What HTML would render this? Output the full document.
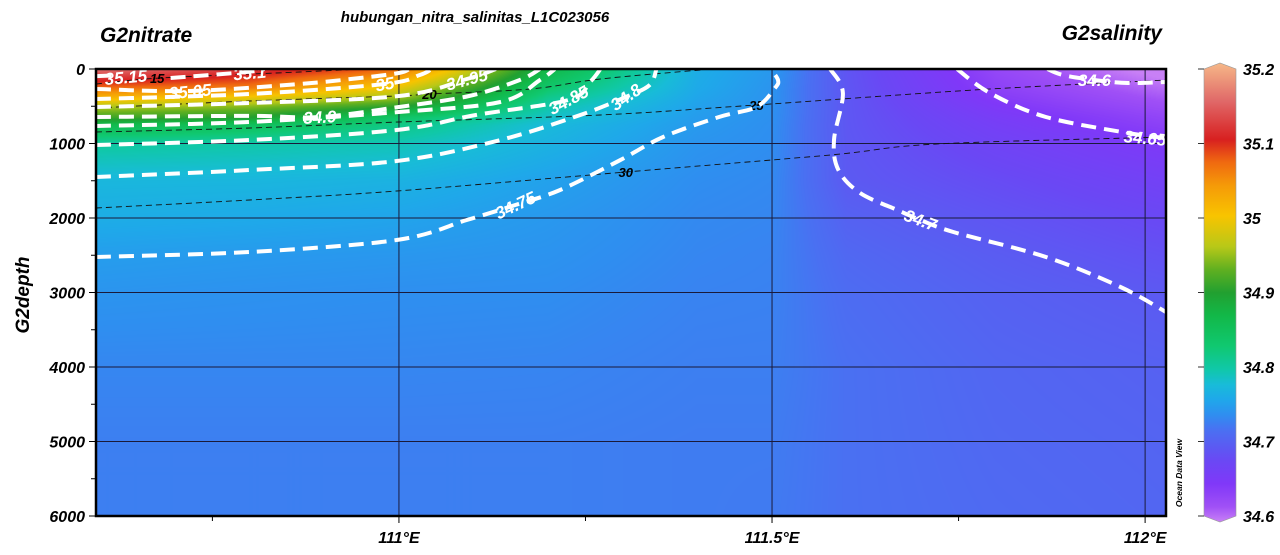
<!DOCTYPE html>
<html><head><meta charset="utf-8"><title>hubungan_nitra_salinitas</title>
<style>
html,body{margin:0;padding:0;background:#fff;}
#wrap{position:relative;width:1280px;height:555px;overflow:hidden;font-family:"Liberation Sans",sans-serif;}
#field{position:absolute;left:96px;top:69px;width:1070px;height:447px;}
#ov{position:absolute;left:0;top:0;}
text{font-family:"Liberation Sans",sans-serif;font-style:italic;font-weight:bold;}
</style></head>
<body>
<div id="wrap">
<canvas id="field" width="1070" height="447"></canvas>
<svg id="ov" width="1280" height="555"></svg>
</div>
<script>
// ---- data ----
const gridLons = [110.594,110.8,111.0,111.2,111.4,111.5,111.6,111.8,112.028];
const gridDepths = [0,250,400,500,650,750,1000,1500,2000,2500,3000,4000,5000,6000];
const sal_110_594 = [35.16,35.07,35.01,34.96,34.915,34.865,34.805,34.775,34.765,34.752,34.745,34.735,34.73,34.73];
const sal_110_8 = [35.12,35.06,34.985,34.945,34.9,34.85,34.80,34.774,34.762,34.749,34.743,34.735,34.73,34.73];
const sal_111_0 = [35.07,34.99,34.945,34.905,34.84,34.818,34.794,34.77,34.757,34.747,34.741,34.735,34.73,34.73];
const sal_111_2 = [34.87,34.835,34.812,34.8,34.787,34.778,34.77,34.755,34.748,34.744,34.74,34.734,34.73,34.73];
const sal_111_4 = [34.765,34.762,34.758,34.755,34.751,34.749,34.745,34.74,34.737,34.735,34.733,34.73,34.728,34.728];
const sal_111_5 = [34.748,34.745,34.744,34.743,34.742,34.741,34.74,34.737,34.735,34.733,34.732,34.73,34.728,34.727];
const sal_111_6 = [34.693,34.694,34.695,34.695,34.695,34.695,34.696,34.698,34.706,34.712,34.716,34.72,34.72,34.72];
const sal_111_8 = [34.63,34.638,34.646,34.652,34.66,34.664,34.672,34.684,34.693,34.70,34.705,34.71,34.712,34.714];
const sal_112_028 = [34.59,34.608,34.617,34.623,34.633,34.638,34.652,34.667,34.68,34.689,34.697,34.705,34.708,34.71];
const salColumns = [sal_110_594,sal_110_8,sal_111_0,sal_111_2,sal_111_4,sal_111_5,sal_111_6,sal_111_8,sal_112_028];

const cmapValues = [34.60,34.62,34.65,34.68,34.70,34.72,34.74,34.76,34.78,34.80,34.83,34.87,34.90,34.93,34.96,35.00,35.04,35.07,35.10,35.15,35.20];
const cmapColors = ["#c880f6","#a050f6","#8038f8","#6a48f4","#5a5cf2","#4a70f2","#2f8ef0","#1fa8ea","#18bcd8","#10c8a8","#10c870","#12b848","#22a030","#60b020","#b8c818","#f8c400","#f59a08","#f06a10","#d82020","#e06868","#f6b888"];

const yTicks = [0,1000,2000,3000,4000,5000,6000];
const xTicks = [111.0,111.5,112.0];
const xTickLabels = ["111°E","111.5°E","112°E"];
const cbTicks = [34.6,34.7,34.8,34.9,35.0,35.1,35.2];
const cbTickLabels = ["34.6","34.7","34.8","34.9","35","35.1","35.2"];

// salinity contours: [lon, depth] points
const cont_3515 = [[110.594,95],[110.62,85]];
const cont_3510 = [[110.694,121],[110.796,40],[110.82,0]];
const cont_3505 = [[110.594,268],[110.72,295],[110.867,201],[110.948,121],[111.0,54],[111.014,0]];
const cont_3500 = [[110.594,403],[110.8,336],[110.981,201],[111.028,81],[111.044,0]];
const cont_3495 = [[110.594,510],[110.8,456],[111.0,362],[111.091,134],[111.13,0]];
const cont_3490 = [[110.594,644],[110.8,630],[110.894,644],[111.0,510],[111.094,362],[111.162,148],[111.189,0]];
const cont_3485 = [[110.594,765],[110.8,711],[111.0,577],[111.136,443],[111.189,148],[111.209,0]];
const cont_3480 = [[110.594,1020],[110.8,953],[110.997,819],[111.103,617],[111.227,416],[111.256,174],[111.27,0]];
const cont_34775 = [[110.594,1450],[110.8,1356],[110.997,1235],[111.136,953],[111.243,617],[111.304,376],[111.336,215],[111.345,0]];
const cont_3475 = [[110.594,2523],[110.8,2456],[110.997,2295],[111.091,2027],[111.156,1826],[111.216,1624],[111.296,1226],[111.354,913],[111.429,644],[111.479,510],[111.504,255],[111.508,148],[111.498,0]];
const cont_3470 = [[111.578,0],[111.595,322],[111.583,953],[111.589,1356],[111.618,1664],[111.668,1893],[111.699,2027],[111.743,2188],[111.867,2523],[111.967,2926],[112.028,3262]];
const cont_3465 = [[111.748,0],[111.792,322],[111.867,644],[111.977,859],[112.028,926]];
const cont_3460 = [[111.869,0],[111.89,81],[111.932,148],[111.977,188],[112.028,174]];
const contours = [cont_3515,cont_3510,cont_3505,cont_3500,cont_3495,cont_3490,cont_3485,cont_3480,cont_34775,cont_3475,cont_3470,cont_3465,cont_3460];
const contLabelText = ["35.15","35.1","35.05","35","34.95","34.9","34.85","34.8","34.75","34.7","34.6","34.65"];
const contLabelPos = [[110.634,110],[110.8,54],[110.72,300],[110.981,201],[111.091,141],[110.894,644],[111.227,416],[111.304,376],[111.156,1826],[111.699,2027],[111.932,150],[112.0,926]];
const contLabelAngle = [-5,-5,-5,-10,-15,-3,-28,-35,-25,20,0,5];

// nitrate contours
const nit_15 = [[110.594,201],[110.68,121],[110.867,40],[110.948,0]];
const nit_20 = [[110.594,523],[110.8,430],[110.997,362],[111.041,336],[111.176,268],[111.27,134],[111.404,13]];
const nit_25 = [[110.594,846],[110.8,792],[111.0,711],[111.27,617],[111.479,483],[111.77,282],[112.028,148]];
const nit_30 = [[110.594,1866],[110.8,1758],[110.997,1638],[111.304,1383],[111.578,1154],[111.72,1007],[112.028,913]];
const nitContours = [nit_15,nit_20,nit_25,nit_30];
const nitLabelText = ["15","20","25","30"];
const nitLabelPos = [[110.676,121],[111.041,336],[111.479,483],[111.304,1383]];

// ---- axes ----
const PX0=96, PX1=1166, PY0=69, PY1=516, LON0=110.594, LON1=112.028;
const xOf = lon => PX0 + (lon-LON0)/(LON1-LON0)*(PX1-PX0);
const yOf = d => PY0 + d/6000*(PY1-PY0);
const CB0=34.6, CB1=35.2, CBY0=516, CBY1=69;
const cbY = v => CBY0 + (v-CB0)/(CB1-CB0)*(CBY1-CBY0);

function hex(c){return [parseInt(c.slice(1,3),16),parseInt(c.slice(3,5),16),parseInt(c.slice(5,7),16)];}
const cmapRGB = cmapColors.map(hex);
function colorOf(v){
  if(v<=cmapValues[0]) return cmapRGB[0];
  const n=cmapValues.length;
  if(v>=cmapValues[n-1]) return cmapRGB[n-1];
  let i=0; while(v>cmapValues[i+1]) i++;
  const t=(v-cmapValues[i])/(cmapValues[i+1]-cmapValues[i]);
  const a=cmapRGB[i], b=cmapRGB[i+1];
  return [a[0]+(b[0]-a[0])*t,a[1]+(b[1]-a[1])*t,a[2]+(b[2]-a[2])*t];
}
function locate(arr,v){let i=0; while(i<arr.length-2 && v>arr[i+1]) i++; let t=(v-arr[i])/(arr[i+1]-arr[i]); t=Math.max(0,Math.min(1,t)); return [i,t];}

// ---- field ----
(function(){
  const cv=document.getElementById('field'); const ctx=cv.getContext('2d');
  const W=cv.width,H=cv.height; const img=ctx.createImageData(W,H);
  const colIdx=[]; for(let x=0;x<W;x++){colIdx.push(locate(gridLons, LON0+(x+0.5)/W*(LON1-LON0)));}
  for(let y=0;y<H;y++){
    const [j,u]=locate(gridDepths,(y+0.5)/H*6000);
    for(let x=0;x<W;x++){
      const [i,t]=colIdx[x];
      const a=salColumns[i], b=salColumns[i+1];
      const v=(a[j]*(1-u)+a[j+1]*u)*(1-t)+(b[j]*(1-u)+b[j+1]*u)*t;
      const c=colorOf(v); const k=(y*W+x)*4;
      img.data[k]=c[0];img.data[k+1]=c[1];img.data[k+2]=c[2];img.data[k+3]=255;
    }
  }
  ctx.putImageData(img,0,0);
})();

// ---- overlay ----
const NS="http://www.w3.org/2000/svg";
const svg=document.getElementById('ov');
function mk(tag,attrs,parent){const e=document.createElementNS(NS,tag);for(const k in attrs)e.setAttribute(k,attrs[k]);(parent||svg).appendChild(e);return e;}
function pathOf(pts){
  const p=pts.map(q=>[xOf(q[0]),yOf(q[1])]);
  let d="M"+p[0][0].toFixed(1)+","+p[0][1].toFixed(1);
  for(let i=0;i<p.length-1;i++){
    const p0=p[Math.max(0,i-1)],p1=p[i],p2=p[i+1],p3=p[Math.min(p.length-1,i+2)];
    const c1=[p1[0]+(p2[0]-p0[0])/6,p1[1]+(p2[1]-p0[1])/6];
    const c2=[p2[0]-(p3[0]-p1[0])/6,p2[1]-(p3[1]-p1[1])/6];
    d+=" C"+c1[0].toFixed(1)+","+c1[1].toFixed(1)+" "+c2[0].toFixed(1)+","+c2[1].toFixed(1)+" "+p2[0].toFixed(1)+","+p2[1].toFixed(1);
  }
  return d;
}
const defs=mk('defs',{});
const clip=mk('clipPath',{id:'pc'},defs);
mk('rect',{x:PX0,y:PY0,width:PX1-PX0,height:PY1-PY0},clip);

// grid
const grid=mk('g',{'clip-path':'url(#pc)'});


yTicks.slice(1,-1).forEach(d=>{
  const l=mk('line',{x1:PX0,x2:PX1,y1:yOf(d),y2:yOf(d),stroke:'#1a1a3a','stroke-width':1},grid);
  
  
});
xTicks.forEach(v=>{
  const l=mk('line',{x1:xOf(v),x2:xOf(v),y1:PY0,y2:PY1,stroke:'#1a1a3a','stroke-width':1},grid);
  
  
});

// nitrate contours
const ng=mk('g',{'clip-path':'url(#pc)'});


nitContours.forEach((c,i)=>{
  const p=mk('path',{d:pathOf(c),fill:'none',stroke:'#111','stroke-width':0.9,'stroke-dasharray':'6 4'},ng);
  
  
});

// salinity contours
const sg=mk('g',{'clip-path':'url(#pc)'});


contours.forEach((c,i)=>{
  const p=mk('path',{d:pathOf(c),fill:'none',stroke:'#fff','stroke-width':4,'stroke-dasharray':'15 8','stroke-linecap':'butt'},sg);
  
  
});
contLabelText.forEach((t,i)=>{
  const x=xOf(contLabelPos[i][0]), y=yOf(contLabelPos[i][1]);
  const tx=mk('text',{x:x,y:y+6,'text-anchor':'middle','font-size':17,fill:'#fff',transform:`rotate(${contLabelAngle[i]} ${x} ${y})`},sg);
  tx.textContent=t;
  
  
});
nitLabelText.forEach((t,i)=>{
  const x=xOf(nitLabelPos[i][0]), y=yOf(nitLabelPos[i][1]);
  const tx=mk('text',{x:x,y:y+5,'text-anchor':'middle','font-size':13,fill:'#000'},ng);
  tx.textContent=t;
  
  
});

// frame
const fr=mk('rect',{x:PX0,y:PY0,width:PX1-PX0,height:PY1-PY0,fill:'none',stroke:'#000','stroke-width':2.5});



// y axis
yTicks.forEach(d=>{
  const t=mk('text',{x:85,y:yOf(d)+6,'text-anchor':'end','font-size':16,fill:'#000'});
  t.textContent=String(d);
  
  
  const l=mk('line',{x1:89,x2:96,y1:yOf(d),y2:yOf(d),stroke:'#000','stroke-width':1});
  
  
});
yTicks.slice(0,-1).forEach(d=>{
  const l=mk('line',{x1:91,x2:96,y1:yOf(d+500),y2:yOf(d+500),stroke:'#000','stroke-width':1});
  
  
});
// x axis
xTicks.forEach((v,i)=>{
  const t=mk('text',{x:xOf(v),y:543,'text-anchor':'middle','font-size':16,fill:'#000'});
  t.textContent=xTickLabels[i];
  
  
  const l=mk('line',{x1:xOf(v),x2:xOf(v),y1:516,y2:523,stroke:'#000','stroke-width':1});
  
  
});
[110.75,111.25,111.75].forEach(v=>{
  const l=mk('line',{x1:xOf(v),x2:xOf(v),y1:516,y2:521,stroke:'#000','stroke-width':1});
  
  
});

// colorbar
const lg=mk('linearGradient',{id:'cbg',x1:0,y1:1,x2:0,y2:0},defs);
cmapValues.forEach((v,i)=>{mk('stop',{offset:((v-CB0)/(CB1-CB0)).toFixed(4),'stop-color':cmapColors[i]},lg);});
const cb=mk('path',{d:`M1204,${cbY(35.2)} L1220,63 L1236,${cbY(35.2)} L1236,${cbY(34.6)} L1220,522 L1204,${cbY(34.6)} Z`,fill:'url(#cbg)',stroke:'#999','stroke-width':0.6});


cbTicks.forEach((v,i)=>{
  const t=mk('text',{x:1243,y:cbY(v)+6,'font-size':16,fill:'#000'});
  t.textContent=cbTickLabels[i];
  
  
  const l=mk('line',{x1:1198,x2:1204,y1:cbY(v),y2:cbY(v),stroke:'#333','stroke-width':1});
  
  
});
</script>
<svg width="1280" height="555" style="position:absolute;left:0;top:0;pointer-events:none">
<text x="475" y="22" text-anchor="middle" font-size="15">hubungan_nitra_salinitas_L1C023056</text>
<text x="100" y="42" font-size="21">G2nitrate</text>
<text x="1162" y="40" text-anchor="end" font-size="21">G2salinity</text>
<text x="0" y="0" font-size="19" text-anchor="middle" transform="translate(29 295) rotate(-90)">G2depth</text>
<text x="0" y="0" font-size="8.5" text-anchor="middle" transform="translate(1182 473) rotate(-90)">Ocean Data View</text>
</svg>
</body></html>
